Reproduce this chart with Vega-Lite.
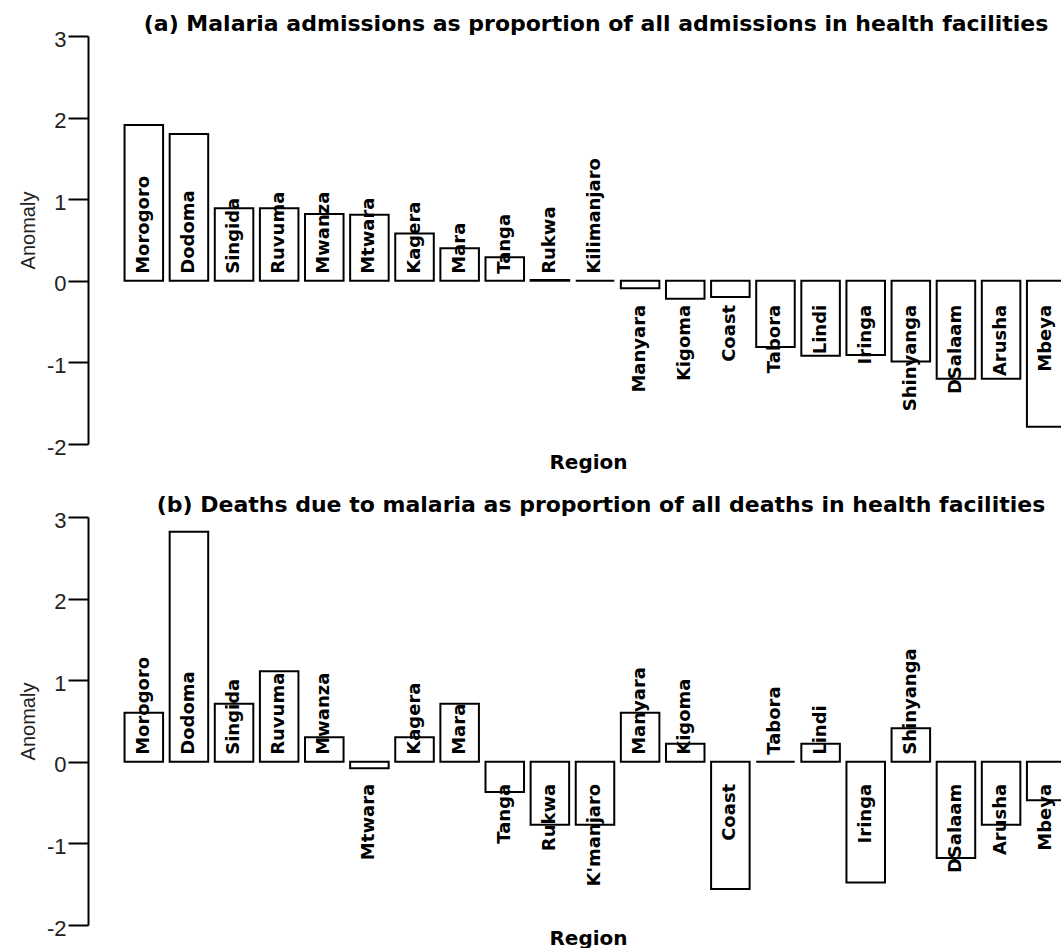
{
  "$schema": "https://vega.github.io/schema/vega-lite/v6.json",
  "autosize": {"type": "pad"},
  "padding": {"left": 18, "top": 13, "right": 0, "bottom": 0},
  "background": "white",
  "spacing": 22,
  "config": {
    "view": {"stroke": null},
    "font": "Liberation Sans",
    "axis": {"grid": false},
    "title": {"font": "DejaVu Sans", "fontSize": 22, "fontWeight": "bold", "anchor": "middle", "color": "black", "offset": -8}
  },
  "resolve": {"scale": {"x": "independent", "y": "independent"}},
  "datasets": {
    "a": [
      {"region": "Morogoro", "value": 1.91},
      {"region": "Dodoma", "value": 1.80},
      {"region": "Singida", "value": 0.89},
      {"region": "Ruvuma", "value": 0.89},
      {"region": "Mwanza", "value": 0.82},
      {"region": "Mtwara", "value": 0.81},
      {"region": "Kagera", "value": 0.58},
      {"region": "Mara", "value": 0.40},
      {"region": "Tanga", "value": 0.29},
      {"region": "Rukwa", "value": 0.01},
      {"region": "Kilimanjaro", "value": 0.0},
      {"region": "Manyara", "value": -0.09},
      {"region": "Kigoma", "value": -0.22},
      {"region": "Coast", "value": -0.20},
      {"region": "Tabora", "value": -0.81},
      {"region": "Lindi", "value": -0.92},
      {"region": "Iringa", "value": -0.91},
      {"region": "Shinyanga", "value": -0.99},
      {"region": "DSalaam", "value": -1.20},
      {"region": "Arusha", "value": -1.20},
      {"region": "Mbeya", "value": -1.79}
    ],
    "b": [
      {"region": "Morogoro", "value": 0.60},
      {"region": "Dodoma", "value": 2.82},
      {"region": "Singida", "value": 0.71},
      {"region": "Ruvuma", "value": 1.11},
      {"region": "Mwanza", "value": 0.30},
      {"region": "Mtwara", "value": -0.08},
      {"region": "Kagera", "value": 0.30},
      {"region": "Mara", "value": 0.71},
      {"region": "Tanga", "value": -0.37},
      {"region": "Rukwa", "value": -0.77},
      {"region": "K'manjaro", "value": -0.77},
      {"region": "Manyara", "value": 0.60},
      {"region": "Kigoma", "value": 0.22},
      {"region": "Coast", "value": -1.56},
      {"region": "Tabora", "value": 0.0},
      {"region": "Lindi", "value": 0.22},
      {"region": "Iringa", "value": -1.48},
      {"region": "Shinyanga", "value": 0.41},
      {"region": "DSalaam", "value": -1.18},
      {"region": "Arusha", "value": -0.77},
      {"region": "Mbeya", "value": -0.47}
    ]
  },
  "vconcat": [
    {
      "title": {"text": "(a) Malaria admissions as proportion of all admissions in health facilities", "dx": 21},
      "width": 974,
      "height": 408,
      "data": {"name": "a"},
      "encoding": {
        "x": {"field": "region", "type": "nominal", "sort": null,
          "scale": {"range": [0, 1014], "paddingInner": 0.146, "paddingOuter": 0.81},
          "axis": {"labels": false, "ticks": false, "domain": false, "title": "Region", "titleFont": "DejaVu Sans", "titleFontSize": 20, "titleFontWeight": "bold", "titleColor": "black", "titlePadding": 8, "titleX": 500}},
        "y": {"field": "value", "type": "quantitative",
          "scale": {"domain": [-2, 3], "nice": false},
          "axis": {"values": [-2, -1, 0, 1, 2, 3], "tickSize": 20, "tickWidth": 2, "tickColor": "black", "domainColor": "black", "domainWidth": 2, "labelFontSize": 22, "labelColor": "#222", "labelPadding": 2, "labelOffset": 3, "labelExpr": "replace(datum.label, '\u2212', '-')", "title": "Anomaly", "titleFontSize": 20, "titleFontWeight": "normal", "titleColor": "#222", "titlePadding": 8, "titleY": 194}}
      },
      "layer": [
        {"mark": {"type": "bar", "fill": "white", "stroke": "black", "strokeWidth": 2, "clip": true}},
        {"transform": [{"filter": "datum.value >= 0"}],
          "mark": {"type": "text", "angle": 270, "align": "left", "baseline": "middle", "dx": 7, "font": "DejaVu Sans", "fontSize": 18, "fontWeight": "bold", "color": "black"},
          "encoding": {"text": {"field": "region"}, "y": {"datum": 0}}},
        {"transform": [{"filter": "datum.value < 0"}],
          "mark": {"type": "text", "angle": 270, "align": "right", "baseline": "middle", "dx": -24, "font": "DejaVu Sans", "fontSize": 18, "fontWeight": "bold", "color": "black"},
          "encoding": {"text": {"field": "region"}, "y": {"datum": 0}}}
      ]
    },
    {
      "title": {"text": "(b) Deaths due to malaria as proportion of all deaths in health facilities", "dx": 26},
      "width": 974,
      "height": 408,
      "data": {"name": "b"},
      "encoding": {
        "x": {"field": "region", "type": "nominal", "sort": null,
          "scale": {"range": [0, 1014], "paddingInner": 0.146, "paddingOuter": 0.81},
          "axis": {"labels": false, "ticks": false, "domain": false, "title": "Region", "titleFont": "DejaVu Sans", "titleFontSize": 20, "titleFontWeight": "bold", "titleColor": "black", "titlePadding": 3, "titleX": 500}},
        "y": {"field": "value", "type": "quantitative",
          "scale": {"domain": [-2, 3], "nice": false},
          "axis": {"values": [-2, -1, 0, 1, 2, 3], "tickSize": 20, "tickWidth": 2, "tickColor": "black", "domainColor": "black", "domainWidth": 2, "labelFontSize": 22, "labelColor": "#222", "labelPadding": 2, "labelOffset": 3, "labelExpr": "replace(datum.label, '\u2212', '-')", "title": "Anomaly", "titleFontSize": 20, "titleFontWeight": "normal", "titleColor": "#222", "titlePadding": 8}}
      },
      "layer": [
        {"mark": {"type": "bar", "fill": "white", "stroke": "black", "strokeWidth": 2, "clip": true}},
        {"transform": [{"filter": "datum.value >= 0"}],
          "mark": {"type": "text", "angle": 270, "align": "left", "baseline": "middle", "dx": 7, "font": "DejaVu Sans", "fontSize": 18, "fontWeight": "bold", "color": "black"},
          "encoding": {"text": {"field": "region"}, "y": {"datum": 0}}},
        {"transform": [{"filter": "datum.value < 0"}],
          "mark": {"type": "text", "angle": 270, "align": "right", "baseline": "middle", "dx": -22, "font": "DejaVu Sans", "fontSize": 18, "fontWeight": "bold", "color": "black"},
          "encoding": {"text": {"field": "region"}, "y": {"datum": 0}}}
      ]
    }
  ]
}
